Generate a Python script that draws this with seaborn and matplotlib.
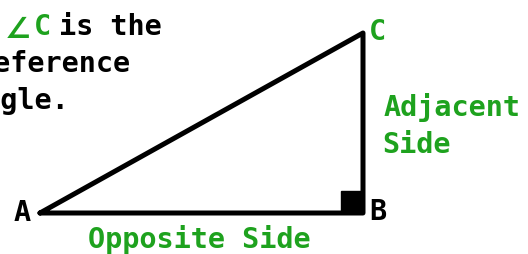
import matplotlib
matplotlib.use("Agg")
import matplotlib.pyplot as plt
import seaborn as sns
import pandas as pd

sns.set_theme(style="white")
plt.rcParams['font.family'] = ['DejaVu Sans Mono', 'DejaVu Sans']

# Data: triangle vertices (pixel-like coordinate space)
vertex_names = ["A", "B", "C"]
vertex_x = [40, 363, 363]
vertex_y = [213, 213, 33]
right_angle_size = 22

GREEN = "#1ea21e"

fig = plt.figure(figsize=(5.28, 2.54), dpi=100)
ax = fig.add_axes([0, 0, 1, 1])
ax.set_xlim(0, 528)
ax.set_ylim(254, 0)
ax.axis("off")

df = pd.DataFrame({"x": vertex_x + [vertex_x[0]], "y": vertex_y + [vertex_y[0]]})
sns.lineplot(data=df, x="x", y="y", sort=False, estimator=None, color="black",
             linewidth=3.6, ax=ax, legend=False)

# right-angle marker at B
bx, by = vertex_x[1], vertex_y[1]
ax.add_patch(plt.Rectangle((bx - right_angle_size, by - right_angle_size),
                           right_angle_size, right_angle_size, color="black"))

fs = 20.5
kw = dict(fontsize=fs, fontweight="bold")
ax.text(14, 213, "A", color="black", va="center", ha="left", **kw)
ax.text(369, 212, "B", color="black", va="center", ha="left", **kw)
ax.text(369, 32, "C", color=GREEN, va="center", ha="left", **kw)

ax.text(384, 107, "Adjacent", color=GREEN, va="center", ha="left", **kw)
ax.text(382, 145, "Side", color=GREEN, va="center", ha="left", **kw)
ax.text(88, 240, "Opposite Side", color=GREEN, va="center", ha="left", **kw)

ax.text(5, 38, "∠", color=GREEN, va="baseline", ha="left", fontsize=21,
        fontweight="bold", family="DejaVu Sans")
ax.text(34, 27, "C", color=GREEN, va="center", ha="left", **kw)
ax.text(162, 27, "is the", color="black", va="center", ha="right", **kw)
ax.text(130, 64, "reference", color="black", va="center", ha="right", **kw)
ax.text(70, 101, "angle.", color="black", va="center", ha="right", **kw)

fig.savefig("out.png", dpi=100, facecolor="white")
